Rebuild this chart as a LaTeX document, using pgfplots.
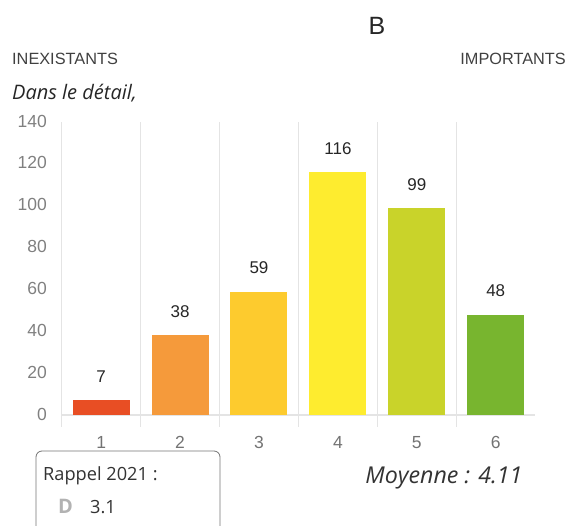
\documentclass[border=0pt]{standalone}
\usepackage{pgfplots}
\pgfplotsset{compat=1.18}
\usepackage{fontspec}
\setmainfont{Liberation Sans}
\newfontfamily\os{Open Sans}
\definecolor{c1}{HTML}{E84E24}
\definecolor{c2}{HTML}{F59A3B}
\definecolor{c3}{HTML}{FDCB2E}
\definecolor{c4}{HTML}{FEEC2F}
\definecolor{c5}{HTML}{C9D32A}
\definecolor{c6}{HTML}{78B52F}
\definecolor{gl}{HTML}{E4E4E4}
\begin{document}
\begin{tikzpicture}[x=1pt,y=1pt]
\useasboundingbox (0,0) rectangle (569,525);
\begin{axis}[
  at={(61.7pt,110pt)}, anchor=origin,
  scale only axis, width=473.5pt, height=293pt,
  xmin=0.5, xmax=6.5, ymin=0, ymax=140,
  axis lines=left, axis x line=bottom, axis y line=none,
  axis line style={gl,line width=1.2pt,-},
  clip=false,
  xtick={1,2,3,4,5,6},
  minor xtick={0.5,1.5,2.5,3.5,4.5,5.5},
  major tick length=0pt,
  minor tick length=12pt,
  tick align=outside,
  minor tick style={gl,line width=1.5pt},
  xminorgrids=true,
  minor grid style={gl,line width=1.5pt},
  xticklabel style={text=black!55,font=\fontsize{17.5}{17.5}\selectfont,yshift=-18pt},
  /pgf/number format/assume math mode=true,
  ybar, bar width=57pt, bar shift=0pt,
  nodes near coords,
  nodes near coords style={text=black!85,font=\fontsize{17}{17}\selectfont,yshift=14pt,/pgf/number format/assume math mode=true},
]
\addplot[fill=c1,draw=none] coordinates {(1,7)};
\addplot[fill=c2,draw=none] coordinates {(2,38)};
\addplot[fill=c3,draw=none] coordinates {(3,59)};
\addplot[fill=c4,draw=none] coordinates {(4,116)};
\addplot[fill=c5,draw=none] coordinates {(5,99)};
\addplot[fill=c6,draw=none] coordinates {(6,48)};
\end{axis}
\foreach \v/\yy in {0/110,20/151.9,40/193.7,60/235.6,80/277.4,100/319.3,120/361.1,140/403}
  \node[anchor=east,text=black!50,font=\fontsize{17.5}{17.5}\selectfont,inner sep=0pt] at (47,\yy+1) {\v};
\node[anchor=base,font=\fontsize{25}{25}\selectfont,text=black!85] at (377,490) {B};
\node[anchor=base west,inner sep=0pt,font=\fontsize{16.3}{16.3}\selectfont,text=black!75] at (12,460) {INEXISTANTS};
\node[anchor=base east,inner sep=0pt,font=\fontsize{16.3}{16.3}\selectfont,text=black!75] at (566,460) {IMPORTANTS};
\node[anchor=base west,inner sep=0pt,font=\os\itshape\fontsize{20}{20}\selectfont,text=black!85] at (12,425) {Dans le détail,};
\draw[black!55,line width=0.8pt,rounded corners=6pt] (36,-5) -- (36,74) -- (220,74) -- (220,-5);
\node[anchor=base west,inner sep=0pt,font=\os\fontsize{18.2}{18.2}\selectfont,text=black!80] at (43,45) {Rappel 2021 :};
\node[anchor=base west,inner sep=0pt,font=\os\bfseries\fontsize{20}{20}\selectfont,text=black!30] at (58,12) {D};
\node[anchor=base west,inner sep=0pt,font=\os\fontsize{18.2}{18.2}\selectfont,text=black!80] at (90,12) {3.1};
\node[anchor=base,inner sep=0pt,font=\os\itshape\fontsize{23.2}{23.2}\selectfont,text=black!80] at (444,42) {Moyenne : 4.11};
\end{tikzpicture}
\end{document}
